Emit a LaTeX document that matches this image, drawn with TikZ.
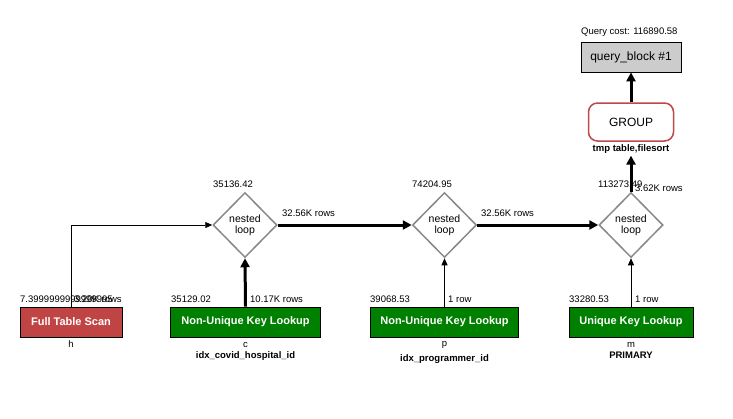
\documentclass[tikz,border=0pt]{standalone}
\usepackage{fontspec}
\setmainfont{Liberation Sans}
\usetikzlibrary{shapes.geometric,arrows.meta}
\definecolor{fsred}{HTML}{C14444}
\definecolor{grpred}{HTML}{C04848}
\definecolor{kgreen}{HTML}{008000}
\definecolor{qgray}{HTML}{CCCCCC}
\definecolor{dgray}{HTML}{888888}
\tikzset{
  lbl/.style={font=\fontsize{9.5}{10}\selectfont, inner sep=0pt},
  blbl/.style={font=\bfseries\fontsize{9.5}{10}\selectfont, inner sep=0pt},
  opbox/.style={draw=black, line width=0.8pt, minimum height=30pt, inner sep=0pt, text=white, font=\bfseries\fontsize{11}{12}\selectfont},
  loopnode/.style={diamond, draw=dgray, line width=1.5pt, fill=white, minimum width=64pt, minimum height=65pt, inner sep=0pt, align=center, font=\fontsize{10.5}{11}\selectfont},
  thickarrow/.style={line width=3pt, -{Triangle[length=9pt,width=9pt]}},
  thinarrow/.style={line width=0.8pt, -{Triangle[length=7pt,width=6pt]}},
}
\begin{document}
\begin{tikzpicture}[x=1pt,y=-1pt]
\useasboundingbox[fill=white] (0,0) rectangle (733,418);

% top
\node[lbl, anchor=west] (qcost) at (581,32) {Query cost: 116890.58};
\node[draw=black, fill=qgray, line width=0.8pt, minimum width=100pt, minimum height=30pt, inner sep=0pt, font=\fontsize{12}{13}\selectfont] (qb) at (631,57) {query\_block \#1};
\node[draw=grpred, fill=white, line width=1.5pt, rounded corners=9pt, minimum width=85pt, minimum height=38pt, inner sep=0pt, font=\fontsize{12}{13}\selectfont] (grp) at (631,122) {GROUP};
\node[blbl] (tmp) at (631,149) {tmp table,filesort};

% diamonds
\node[loopnode] (d1) at (245,225) {nested\\loop};
\node[loopnode] (d2) at (444.5,225) {nested\\loop};
\node[loopnode] (d3) at (631,225) {nested\\loop};

\node[lbl, anchor=west] (d1c) at (213,184) {35136.42};
\node[lbl, anchor=west] (d2c) at (412,184) {74204.95};
\node[lbl, anchor=west] (d3c) at (598,184) {113273.49};
\node[lbl, anchor=west] (r12) at (282,213) {32.56K rows};
\node[lbl, anchor=west] (r23) at (481,213) {32.56K rows};
\node[lbl, anchor=west] (r3g) at (635,188) {3.62K rows};

% bottom boxes
\node[opbox, fill=fsred, minimum width=102pt] (h) at (71,322) {Full Table Scan};
\node[opbox, fill=kgreen, minimum width=150pt] (c) at (245.5,322) {Non-Unique Key Lookup};
\node[opbox, fill=kgreen, minimum width=148pt] (p) at (444.5,322) {Non-Unique Key Lookup};
\node[opbox, fill=kgreen, minimum width=124pt] (m) at (631,322) {Unique Key Lookup};

\node[lbl] (hn) at (71,344) {h};
\node[lbl] (cn) at (245.5,345) {c};
\node[blbl] (ck) at (245.5,356) {idx\_covid\_hospital\_id};
\node[lbl] (pn) at (444.5,345) {p};
\node[blbl] (pk) at (444.5,359) {idx\_programmer\_id};
\node[lbl] (mn) at (631,345) {m};
\node[blbl] (mk) at (631,355) {PRIMARY};

\node[lbl, anchor=west] (hc) at (20,299) {7.3999999999999995};
\node[lbl, anchor=west] (hr) at (74,299) {3.20K rows};
\node[lbl, anchor=west] (cc) at (171,299) {35129.02};
\node[lbl, anchor=west] (cr) at (250,299) {10.17K rows};
\node[lbl, anchor=west] (pc) at (370,299) {39068.53};
\node[lbl, anchor=west] (pr) at (448,299) {1 row};
\node[lbl, anchor=west] (mc) at (569,299) {33280.53};
\node[lbl, anchor=west] (mr) at (635,299) {1 row};

% connectors
\draw[thinarrow] (h.north) |- (d1.west);
\draw[thickarrow] (c.north) -- (d1.south);
\draw[thinarrow] (p.north) -- (d2.south);
\draw[thinarrow] (m.north) -- (d3.south);
\draw[thickarrow] (d1.east) -- (d2.west);
\draw[thickarrow] (d2.east) -- (d3.west);
\draw[thickarrow, shorten >=2pt] (d3.north) -- (tmp.south);
\draw[thickarrow] (grp.north) -- (qb.south);
\end{tikzpicture}
\end{document}
